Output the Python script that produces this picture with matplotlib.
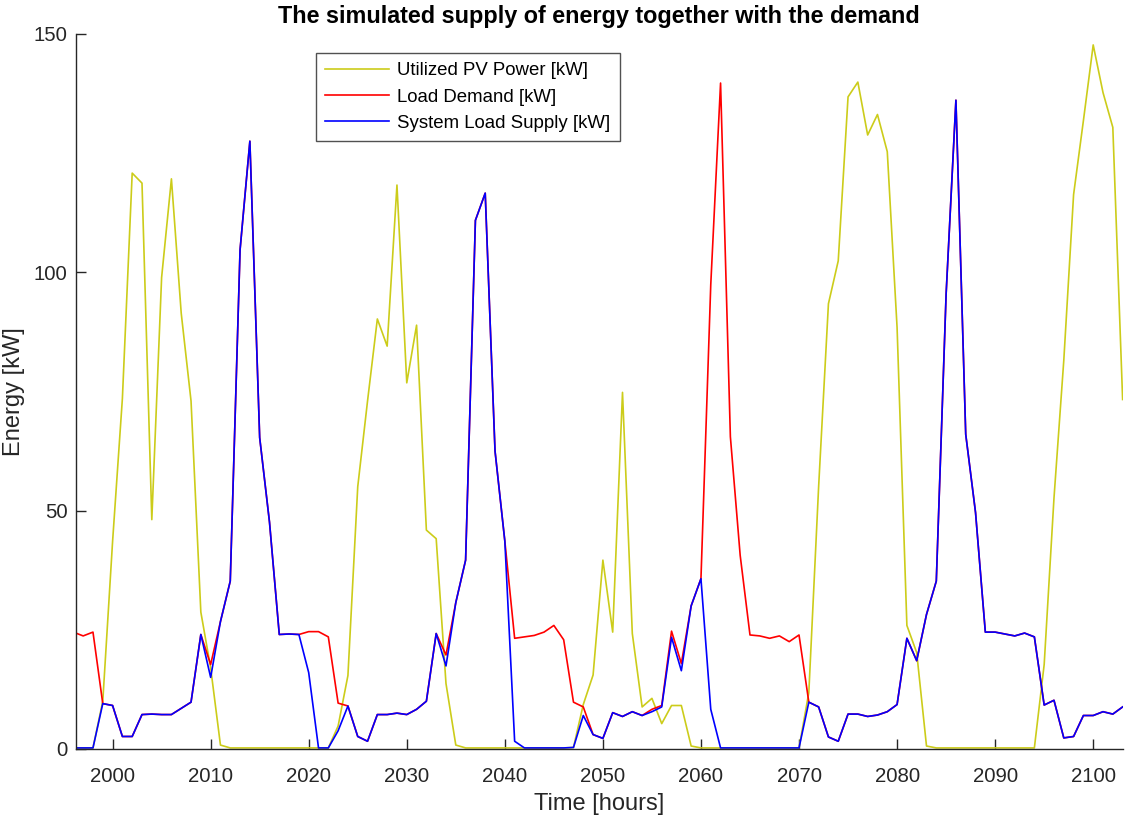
import numpy
import matplotlib

matplotlib.use("Agg")
import matplotlib.pyplot as plt

plt.rcParams["font.family"] = ["Liberation Sans", "DejaVu Sans"]

hours = numpy.arange(1996, 2104)

pv = [
    0.2, 0.2, 0.2, 10.0, 43.5, 73.5, 120.8, 118.7, 48.1, 98.9,
    119.6, 91.4, 73.0, 28.7, 17.0, 0.8, 0.2, 0.2, 0.2, 0.2,
    0.2, 0.2, 0.2, 0.2, 0.2, 0.2, 0.2, 4.8, 15.4, 55.0,
    73.0, 90.2, 84.5, 118.3, 76.8, 88.9, 45.9, 44.1, 13.7, 0.8,
    0.2, 0.2, 0.2, 0.2, 0.2, 0.2, 0.2, 0.2, 0.2, 0.2,
    0.2, 0.3, 9.3, 15.5, 39.6, 24.5, 74.8, 24.2, 8.8, 10.6,
    5.3, 9.1, 9.1, 0.6, 0.2, 0.2, 0.2, 0.2, 0.2, 0.2,
    0.2, 0.2, 0.2, 0.2, 0.2, 11.8, 55.0, 93.4, 102.4, 136.8,
    139.9, 128.8, 133.1, 125.3, 88.4, 25.9, 20.2, 0.6, 0.2, 0.2,
    0.2, 0.2, 0.2, 0.2, 0.2, 0.2, 0.2, 0.2, 0.2, 17.7,
    52.6, 81.5, 116.3, 131.8, 147.7, 137.7, 130.4, 73.3,
]

load = [
    24.5, 23.7, 24.5, 9.5, 9.1, 2.6, 2.6, 7.2, 7.3, 7.2,
    7.2, 8.5, 9.8, 24.0, 17.7, 26.7, 35.2, 104.7, 127.5, 65.3,
    47.6, 24.0, 24.1, 24.0, 24.6, 24.6, 23.5, 9.6, 9.0, 2.6,
    1.6, 7.2, 7.2, 7.5, 7.2, 8.3, 10.0, 24.2, 19.7, 30.7,
    39.6, 110.9, 116.6, 62.5, 43.6, 23.2, 23.5, 23.8, 24.5, 25.9,
    22.9, 9.8, 8.8, 3.0, 2.2, 7.6, 6.8, 7.8, 7.0, 8.3,
    9.1, 24.7, 17.9, 30.0, 35.7, 97.4, 139.7, 65.5, 40.6, 23.9,
    23.7, 23.2, 23.7, 22.5, 23.9, 9.8, 8.8, 2.5, 1.6, 7.3,
    7.3, 6.8, 7.1, 7.8, 9.3, 23.2, 18.5, 28.2, 35.2, 95.4,
    136.1, 66.0, 49.6, 24.5, 24.5, 24.1, 23.7, 24.3, 23.5, 9.2,
    10.2, 2.3, 2.6, 7.0, 7.0, 7.8, 7.3, 8.8,
]

supply = [
    0.2, 0.2, 0.2, 9.5, 9.1, 2.6, 2.6, 7.2, 7.3, 7.2,
    7.2, 8.5, 9.8, 24.0, 15.0, 26.7, 35.2, 104.7, 127.5, 65.3,
    47.6, 24.0, 24.1, 24.0, 16.0, 0.2, 0.2, 3.8, 9.0, 2.6,
    1.6, 7.2, 7.2, 7.5, 7.2, 8.3, 10.0, 24.2, 17.4, 30.7,
    39.6, 110.9, 116.6, 62.5, 43.6, 1.6, 0.2, 0.2, 0.2, 0.2,
    0.2, 0.3, 7.0, 3.0, 2.2, 7.6, 6.8, 7.8, 7.0, 7.8,
    8.8, 23.4, 16.4, 30.0, 35.7, 8.3, 0.2, 0.2, 0.2, 0.2,
    0.2, 0.2, 0.2, 0.2, 0.2, 9.8, 8.8, 2.5, 1.6, 7.3,
    7.3, 6.8, 7.1, 7.8, 9.3, 23.2, 18.5, 28.2, 35.2, 95.4,
    136.1, 66.0, 49.6, 24.5, 24.5, 24.1, 23.7, 24.3, 23.5, 9.2,
    10.2, 2.3, 2.6, 7.0, 7.0, 7.8, 7.3, 8.8,
]

fig = plt.figure(figsize=(11.26, 8.18), dpi=100)
ax = fig.add_axes([0.0675, 0.0845, 0.9295, 0.874])

ax.plot(hours, pv, color="#cccc1a", lw=1.2, label="Utilized PV Power [kW]")
ax.plot(hours, load, color="#ff0000", lw=1.2, label="Load Demand [kW]")
ax.plot(hours, supply, color="#0000ff", lw=1.2, label="System Load Supply [kW]")

ax.set_xlim(1996.27, 2103)
ax.set_ylim(0, 150)
ax.set_xticks([2000, 2010, 2020, 2030, 2040, 2050, 2060, 2070, 2080, 2090, 2100])
ax.set_yticks([0, 50, 100, 150])

for side in ("top", "right"):
    ax.spines[side].set_visible(False)
for side in ("left", "bottom"):
    ax.spines[side].set_color("#262626")
    ax.spines[side].set_linewidth(1.0)
ax.tick_params(direction="in", length=7, width=1.0, color="#262626",
               labelcolor="#262626", labelsize=14.7)
ax.tick_params(axis="x", pad=13)
ax.tick_params(axis="y", pad=6)

ax.set_title("The simulated supply of energy together with the demand",
             fontsize=16.8, fontweight="bold", pad=8)
ax.set_xlabel("Time [hours]", fontsize=17, color="#262626", labelpad=5)
ax.set_ylabel("Energy [kW]", fontsize=17, color="#262626", labelpad=6)

leg = ax.legend(loc="upper left", bbox_to_anchor=(316 / 1126, 1 - 53 / 818),
                bbox_transform=fig.transFigure, fontsize=13.4, frameon=True,
                fancybox=False, edgecolor="#262626", handlelength=3.4,
                handletextpad=0.45, labelspacing=0.5, borderpad=0.5,
                borderaxespad=0)
leg.get_frame().set_linewidth(1.0)

fig.savefig("out.png", dpi=100)
